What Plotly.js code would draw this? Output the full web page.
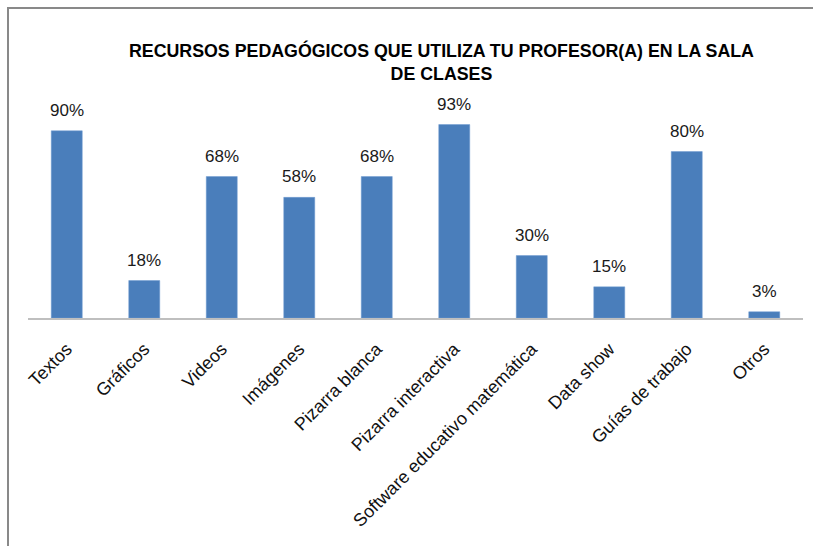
<!DOCTYPE html>
<html><head><meta charset="utf-8">
<script src="https://cdn.plot.ly/plotly-3.0.1.min.js"></script>
<style>
html,body{margin:0;padding:0;background:#fff;}
#chart{position:absolute;left:0;top:0;width:813px;height:546px;}
#frame{position:absolute;left:7px;top:7px;width:820px;height:560px;border-left:2px solid #898989;border-top:2px solid #898989;pointer-events:none;}
</style>
</head><body>
<div id="chart"></div>
<div id="frame"></div>
<script>
const categories = ["Textos","Gráficos","Videos","Imágenes","Pizarra blanca","Pizarra interactiva","Software educativo matemática","Data show","Guías de trabajo","Otros"];
const values = [90,18,68,58,68,93,30,15,80,3];
const labels = ["90%","18%","68%","58%","68%","93%","30%","15%","80%","3%"];
const titleText = "RECURSOS PEDAGÓGICOS QUE UTILIZA TU PROFESOR(A) EN LA SALA<br>DE CLASES";

const font = "Liberation Sans, Arial, sans-serif";
const trace = {
  type:"bar", x:categories, y:values,
  marker:{color:"#4A7EBB", line:{color:"#6f9bd0", width:0.5}},
  hoverinfo:"none"
};
const annotations = categories.map((c,i)=>({
  x:c, y:values[i], xref:"x", yref:"y", text:labels[i], showarrow:false,
  yanchor:"bottom", yshift:9, font:{family:font, size:17, color:"#1a1a1a"}
}));
const layout = {
  width:813, height:546,
  margin:{l:28, r:10, t:110, b:228},
  paper_bgcolor:"#fff", plot_bgcolor:"#fff",
  title:{text:titleText, x:0.543, xanchor:"center", y:0.895, yanchor:"top",
         font:{family:font, size:17.8, color:"#000", weight:"bold"}},
  bargap:0.6,
  showlegend:false,
  xaxis:{type:"category", tickangle:-45, ticks:"", showline:true, linecolor:"#BFBFBF", linewidth:1.5,
         tickfont:{family:font, size:18, color:"#111"}, ticklabelstandoff:12, fixedrange:true},
  yaxis:{range:[0,100], visible:false, showgrid:false, zeroline:false, fixedrange:true},
  annotations:annotations
};
Plotly.newPlot("chart",[trace],layout,{displayModeBar:false, staticPlot:true});
</script>
</body></html>
